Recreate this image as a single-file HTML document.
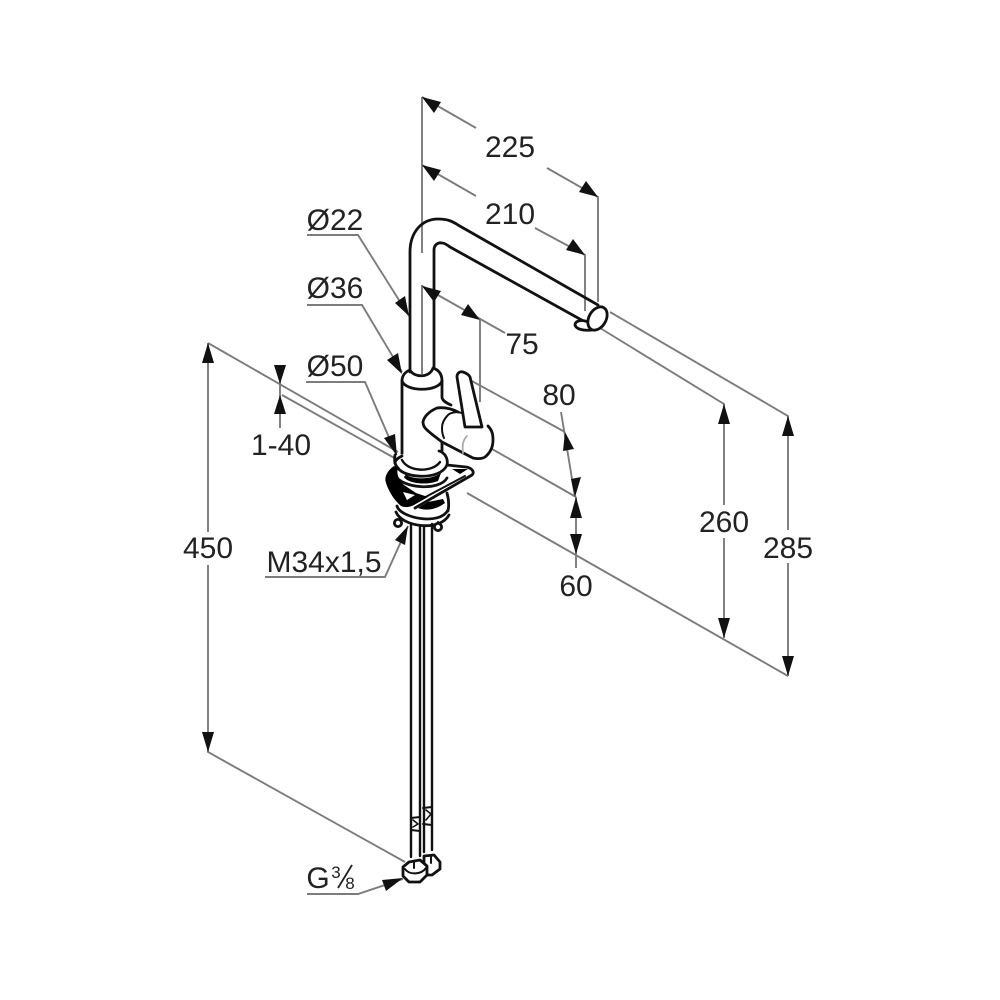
<!DOCTYPE html>
<html><head><meta charset="utf-8"><style>
html,body{margin:0;padding:0;background:#fff}
svg{display:block}
text{font-family:"Liberation Sans",sans-serif;font-size:30px;fill:#222;text-anchor:middle}
</style></head><body>
<svg width="1000" height="1000" viewBox="0 0 1000 1000">
<rect width="1000" height="1000" fill="#fff"/>
<g fill="none" stroke="#7c7c7c" stroke-width="1.9">
<path d="M422 97V253M422 285V374"/>
<path d="M422 97L476 128M547 168L598 197V302"/>
<path d="M422 165L476 196M535 228L585 255V311"/>
<path d="M422 286L505 333M480 320V402"/>
<path d="M208 343L398 452M282 395L398 460"/>
<path d="M467 493L788 676"/>
<path d="M208 343V532M208 565V752L405 862"/>
<path d="M600 328L724 404V505M724 538V638"/>
<path d="M610 312L788 416V530M788 563V676"/>
<path d="M470 380L565 432M561 412L575 497M485 445L576 497M576 497V568"/>
<path d="M280 365V428"/>
<path d="M307 235H358L409 316M307 305H362L402 372M306 382H365L397 456"/>
<path d="M265 577H385L408 526M307 894H358L403 879"/>
</g>
<g fill="#111">
<path d="M422 97L441 102L434 113Z"/>
<path d="M598 197L579 192L586 181Z"/>
<path d="M422 165L441 170L434 181Z"/>
<path d="M585 255L566 250L573 239Z"/>
<path d="M422 286L441 291L434 302Z"/>
<path d="M480 320L461 315L468 304Z"/>
<path d="M208 343L202 363H214Z"/>
<path d="M208 752L202 732H214Z"/>
<path d="M724 404L718 424H730Z"/>
<path d="M724 638L718 618H730Z"/>
<path d="M788 416L782 436H794Z"/>
<path d="M788 676L782 656H794Z"/>
<path d="M565 432L563 451L574 449Z"/>
<path d="M575 497L571 479L581 477Z"/>
<path d="M576 497L570 518H582Z"/>
<path d="M576 554L570 534H582Z"/>
<path d="M280 384L274 365H286Z"/>
<path d="M280 395L274 414H286Z"/>
<path d="M409 316L395 303L405 296Z"/>
<path d="M402 374L387 360L398 353Z"/>
<path d="M397 456L384 438L395 434Z"/>
<path d="M408 526L395 540L405 545Z"/>
<path d="M403 878L382 880L386 891Z"/>
</g>
<text x="510" y="157">225</text>
<text x="510" y="224">210</text>
<text x="522" y="354">75</text>
<text x="559" y="405">80</text>
<text x="576" y="596">60</text>
<text x="724" y="532">260</text>
<text x="788" y="558">285</text>
<text x="208" y="558">450</text>
<text x="281" y="455">1-40</text>
<text x="335" y="230">Ø22</text>
<text x="335" y="298">Ø36</text>
<text x="335" y="376">Ø50</text>
<text x="324" y="572">M34x1,5</text>
<text x="318" y="888">G</text>
<text x="336" y="878" style="font-size:17px">3</text>
<text x="350" y="889" style="font-size:17px">8</text>
<path d="M338 888L352 865" stroke="#222" stroke-width="1.8" fill="none"/>
<g fill="none" stroke="#111" stroke-width="2.8" stroke-linecap="round" stroke-linejoin="round">
<path d="M410 372V252C410 232 422 219 438 219C447 219 452 221 458 225L598 305"/>
<path d="M434 368V250C434 245 438 242 442 243C445 243 447 245 450 247L587 323"/>
<path d="M588 322C581 319 575 321 575 325C576 329 583 331 592 330" fill="#fff"/>
<ellipse cx="597.5" cy="318.5" rx="8.5" ry="12.5" transform="rotate(30 597.5 318.5)" fill="#fff"/>
<path d="M402 381C402 376 405 372 410 370C414 378 430 378 433 368C439 370 442 374 442 381C438 392 406 392 402 381Z"/>
<path d="M402 381V456M442 381V397C442 400 446 403 451 405"/>
<path d="M442 443V460"/>
<path d="M458 412C452 409 444 407 437 408C430 411 424 416 423 422C423 425 424 427 426 429C431 434 437 438 442 442L473 458C478 459 482 459 485 457C490 453 493 447 493 440C493 434 492 430 488 426" fill="#fff"/>
<path d="M462 413C456 411 450 413 448 415C444 419 442 423 442 428C442 432 443 436 444 438" stroke-width="2"/>
<path d="M457 377C457 373 460 371 463 372C466 373 469 375 470 377L482 427L465 427Z" fill="#fff"/>
<path d="M467 436C463 440 462 445 463 453" stroke="#aaa" stroke-width="1.8"/>
<path d="M395 455C394 462 395 465 398 468C404 478 440 481 447 465C448 461 447 458 445 455C442 452 440 451 439 451" fill="#fff"/>
<path d="M402 456C398 458 395 460 395 463"/>
<path d="M402 460C408 472 432 473 440 462" stroke-width="2.4"/>
<path d="M395 475C402 489 440 491 447 478"/>
<path d="M405 477C411 484 432 484 438 478" stroke-width="2"/>
<path d="M447 465L466 467C472 468 475 472 472 475L415 508"/>
<path d="M418 501L465 476" stroke-width="2"/>
<path d="M447 493C449 500 449 506 448 511"/>
<path d="M397 506C400 518 440 526 448 510"/>
<path d="M396 512C402 527 440 532 449 515"/>
<path d="M400 517V522M438 522V525" stroke-width="2"/>
<circle cx="398" cy="523" r="3.6" fill="#fff"/><circle cx="438" cy="527" r="3.6" fill="#fff"/>
<path d="M411 525V857M420 526V856M424 527V852M432 524V850" stroke-width="2.4"/>
<path d="M411 818L420 817M411 830L420 831M423 808L432 807M423 824L432 825" stroke-width="2"/>
<path d="M413 820L418 824L413 827M426 810L431 814L426 820" stroke-width="1.6"/>
<path d="M424 856L434 855L440 862L440 869L432 875L424 875Z" fill="#fff"/>
<path d="M409 862L420 860L427 866L427 875L420 882L409 882L403 876L403 867Z" fill="#fff"/>
<path d="M405 869C409 875 421 875 426 868M414 862V868M431 856V863" stroke-width="2"/>
</g>
<g fill="#000">
<path d="M394 466C387 471 384 477 386 483C389 492 394 500 401 506C406 508 410 507 414 505L428 497L416 493L404 485C399 480 396 474 398 468Z"/>
<path d="M405 474C412 480 432 480 441 473L438 481C428 485 414 484 406 479Z"/>
<path d="M418 508C425 511 436 510 445 503L443 499L428 502Z"/>
<path d="M452 469L468 469L460 474Z"/>
</g>
<path d="M403 492L415 495L407 500Z" fill="#fff"/>
</svg>
</body></html>
